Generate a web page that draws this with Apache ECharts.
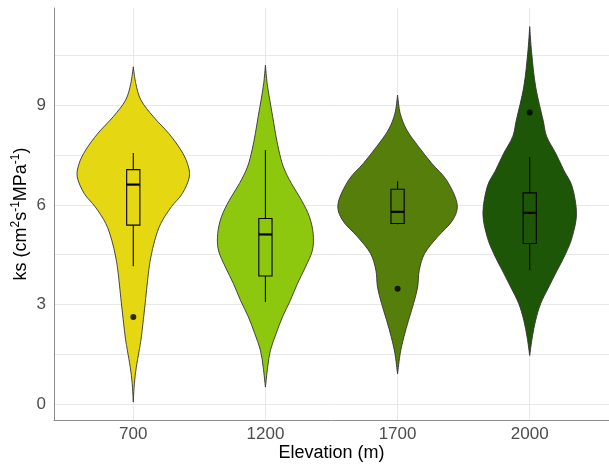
<!DOCTYPE html>
<html>
<head>
<meta charset="utf-8">
<script src="https://cdn.jsdelivr.net/npm/echarts@6/dist/echarts.min.js"></script>
<style>
  html, body { margin: 0; padding: 0; background: #fff; }
  #chart { width: 609px; height: 464px; }
</style>
</head>
<body>
<div id="chart"></div>
<script>
const elevations = ['700', '1200', '1700', '2000'];

// violin outlines: ks value and half width (category units)
const ks700 = [0.07, 0.62, 1.12, 1.63, 2.03, 2.93, 3.93, 4.43, 4.94, 5.44, 5.94, 6.34, 6.84, 7.24, 7.65, 8.15, 8.65, 9.15, 9.65, 10.15];
const hw700 = [0, 0.008, 0.023, 0.045, 0.061, 0.087, 0.114, 0.133, 0.163, 0.208, 0.288, 0.371, 0.424, 0.41, 0.36, 0.268, 0.152, 0.058, 0.019, 0];
const ks1200 = [0.52, 1.12, 1.63, 2.13, 2.63, 3.13, 3.63, 4.13, 4.64, 5.14, 5.64, 6.14, 6.64, 7.14, 7.65, 8.15, 8.65, 9.15, 9.65, 10.2];
const hw1200 = [0, 0.017, 0.038, 0.081, 0.129, 0.189, 0.242, 0.303, 0.356, 0.361, 0.333, 0.273, 0.197, 0.136, 0.101, 0.076, 0.055, 0.033, 0.013, 0];
const ks1700 = [0.92, 1.53, 2.03, 2.53, 3.03, 3.53, 4.03, 4.54, 5.04, 5.54, 6.04, 6.74, 7.25, 7.75, 8.25, 8.75, 9.3];
const hw1700 = [0, 0.02, 0.048, 0.083, 0.121, 0.152, 0.164, 0.205, 0.303, 0.417, 0.45, 0.371, 0.258, 0.159, 0.07, 0.02, 0];
const ks2000 = [1.47, 2.03, 2.53, 3.03, 3.53, 4.03, 4.54, 5.04, 5.74, 6.54, 7.04, 7.55, 8.05, 8.55, 9.55, 10.56, 11.36];
const hw2000 = [0, 0.02, 0.045, 0.083, 0.144, 0.208, 0.273, 0.322, 0.354, 0.322, 0.258, 0.197, 0.129, 0.101, 0.045, 0.015, 0];

// box stats: lower whisker, q1, median, q3, upper whisker
const box700 = [4.15, 5.39, 6.61, 7.06, 7.56];
const box1200 = [3.08, 3.86, 5.11, 5.59, 7.65];
const box1700 = [5.42, 5.44, 5.79, 6.47, 6.71];
const box2000 = [4.03, 4.84, 5.76, 6.36, 7.44];

const outliers = [[1, 2.63], [3, 3.48], [4, 8.78]];

const yLabels = [0, 3, 6, 9];
const yGrid = [0, 1.5, 3, 4.5, 6, 7.5, 9, 10.5];
const xPos = [1, 2, 3, 4];

const colors = ['#E5D812', '#8DC80F', '#557F0A', '#1D5606'];
const profiles = [[ks700, hw700], [ks1200, hw1200], [ks1700, hw1700], [ks2000, hw2000]];
const boxes = [box700, box1200, box1700, box2000];

// smooth curve through pixel points (catmull-rom as bezier)
function curve(pts) {
  let d = '';
  const n = pts.length;
  for (let i = 0; i < n - 1; i++) {
    const p0 = pts[Math.max(i - 1, 0)], p1 = pts[i], p2 = pts[i + 1], p3 = pts[Math.min(i + 2, n - 1)];
    const c1 = [p1[0] + (p2[0] - p0[0]) / 6, p1[1] + (p2[1] - p0[1]) / 6];
    const c2 = [p2[0] - (p3[0] - p1[0]) / 6, p2[1] - (p3[1] - p1[1]) / 6];
    d += 'C' + c1[0] + ',' + c1[1] + ' ' + c2[0] + ',' + c2[1] + ' ' + p2[0] + ',' + p2[1];
  }
  return d;
}

const font = 'Liberation Sans, Arial, sans-serif';
const chart = echarts.init(document.getElementById('chart'));

chart.setOption({
  animation: false,
  grid: { left: 54, right: 0, top: 8, bottom: 44, outerBoundsMode: 'none' },
  xAxis: {
    type: 'value',
    min: 0.4,
    max: 4.6,
    name: 'Elevation (m)',
    nameLocation: 'middle',
    nameGap: 24,
    nameMoveOverlap: false,
    nameTextStyle: { color: '#000', fontSize: 18, fontFamily: font },
    axisLine: { show: true, onZero: false, lineStyle: { color: '#8c8c8c', width: 1 } },
    axisTick: { show: false, customValues: xPos },
    axisLabel: {
      customValues: xPos,
      formatter: (v) => elevations[Math.round(v) - 1],
      color: '#4d4d4d', fontSize: 17, fontFamily: font, margin: 6,
    },
    splitLine: { show: true, lineStyle: { color: '#e8e8e8', width: 1 } },
  },
  yAxis: {
    type: 'value',
    min: -0.47,
    max: 11.92,
    name: '{a|ks (cm}{s|2}{a|s}{s|-1}{a|MPa}{s|-1}{a|)}',
    nameLocation: 'middle',
    nameGap: 22,
    nameMoveOverlap: false,
    nameTextStyle: {
      fontFamily: font,
      rich: {
        a: { fontSize: 18, color: '#000', fontFamily: font, lineHeight: 22 },
        s: { fontSize: 12, color: '#000', fontFamily: font, verticalAlign: 'top', lineHeight: 22 },
      },
    },
    axisLine: { show: true, onZero: false, lineStyle: { color: '#8c8c8c', width: 1 } },
    axisTick: { show: false, customValues: yGrid },
    axisLabel: { customValues: yLabels, color: '#4d4d4d', fontSize: 17, fontFamily: font, margin: 8 },
    splitLine: { show: true, lineStyle: { color: '#e8e8e8', width: 1 } },
  },
  series: [
    {
      type: 'custom',
      name: 'violin',
      data: xPos.map((x) => [x]),
      renderItem: (params, api) => {
        const c = api.value(0);
        const i = c - 1;
        const ks = profiles[i][0], hw = profiles[i][1];
        const right = ks.map((v, k) => api.coord([c + hw[k], v]));
        const left = ks.map((v, k) => api.coord([c - hw[k], v])).reverse();
        const d = 'M' + right[0][0] + ',' + right[0][1] + curve(right) + curve(left) + 'Z';
        return {
          type: 'path',
          shape: { pathData: d },
          style: { fill: colors[i], stroke: '#333', lineWidth: 0.9 },
        };
      },
    },
    {
      type: 'custom',
      name: 'box',
      data: boxes.map((b, i) => [xPos[i]].concat(b)),
      renderItem: (params, api) => {
        const c = api.value(0);
        const lo = api.coord([c, api.value(1)]);
        const q1 = api.coord([c, api.value(2)]);
        const med = api.coord([c, api.value(3)]);
        const q3 = api.coord([c, api.value(4)]);
        const hi = api.coord([c, api.value(5)]);
        const hw = api.size([0.05, 0])[0];
        const x = lo[0];
        return {
          type: 'group',
          children: [
            { type: 'line', shape: { x1: x, y1: lo[1], x2: x, y2: q1[1] }, style: { stroke: '#000', lineWidth: 1.1 } },
            { type: 'line', shape: { x1: x, y1: q3[1], x2: x, y2: hi[1] }, style: { stroke: '#000', lineWidth: 1.1 } },
            { type: 'rect', shape: { x: x - hw, y: q3[1], width: hw * 2, height: q1[1] - q3[1] }, style: { fill: 'none', stroke: '#000', lineWidth: 1.1 } },
            { type: 'line', shape: { x1: x - hw, y1: med[1], x2: x + hw, y2: med[1] }, style: { stroke: '#000', lineWidth: 2.2 } },
          ],
        };
      },
    },
    {
      type: 'scatter',
      name: 'outliers',
      data: outliers,
      symbolSize: 6,
      itemStyle: { color: '#000' },
    },
  ],
});
</script>
</body>
</html>
